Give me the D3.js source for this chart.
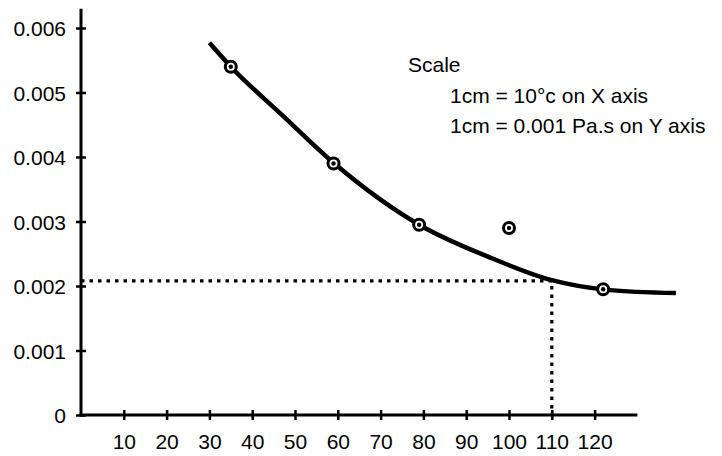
<!DOCTYPE html>
<html>
<head>
<meta charset="utf-8">
<script src="https://cdn.jsdelivr.net/npm/d3@7"></script>
<style>
  body { margin: 0; background: #fff; }
  text { font-family: "Liberation Sans", Arial, sans-serif; fill: #000; }
</style>
</head>
<body>
<script>
// temperature (deg C) of the measured points
var tempPoints = [35, 59, 79, 100, 122];
// viscosity (Pa.s) of the measured points
var viscPoints = [0.0054, 0.0039, 0.00295, 0.0029, 0.00195];

// smooth curve drawn through the points
var curveTemp = [30, 35, 47, 59, 79, 96, 110, 123, 139];
var curveVisc = [0.00577, 0.0054, 0.00465, 0.00391, 0.00295, 0.00243, 0.00209, 0.00194, 0.00189];

var xTicks = [10, 20, 30, 40, 50, 60, 70, 80, 90, 100, 110, 120];
var yTicks = [0, 0.001, 0.002, 0.003, 0.004, 0.005, 0.006];
var yTickLabels = ["0", "0.001", "0.002", "0.003", "0.004", "0.005", "0.006"];

// reading marked with dotted guide lines
var readTemp = 110, readVisc = 0.00208;

var w = 722, h = 456;

var svg = d3.select("body").append("svg")
	.attr("width", w)
	.attr("height", h);

var x = d3.scaleLinear()
	.domain([0, 120])
	.range([81, 594.6]);

var y = d3.scaleLinear()
	.domain([0, 0.006])
	.range([415, 28]);

// dotted guide lines
svg.append("path")
	.attr("d", "M" + x(0) + "," + y(readVisc) + "H" + x(readTemp) + "V" + y(0))
	.attr("fill", "none")
	.attr("stroke", "#000")
	.attr("stroke-width", 3.2)
	.attr("stroke-dasharray", "3.5,5");

// y axis
var yAxis = d3.axisLeft(y)
	.tickValues(yTicks)
	.tickFormat(function(d, i){ return yTickLabels[i]; })
	.tickSize(5)
	.tickPadding(10);

var gy = svg.append("g")
	.attr("transform", "translate(" + x(0) + ",0)")
	.call(yAxis);
gy.select(".domain").remove();
gy.selectAll(".tick line").attr("x1", 5).attr("stroke-width", 2.5);
gy.selectAll(".tick text")
	.style("font-family", "'Liberation Sans', Arial, sans-serif")
	.style("font-size", "21px")
	.attr("dy", "0.36em");

// x axis
var xAxis = d3.axisBottom(x)
	.tickValues(xTicks)
	.tickSize(5)
	.tickPadding(14);

var gx = svg.append("g")
	.attr("transform", "translate(0," + y(0) + ")")
	.call(xAxis);
gx.select(".domain").remove();
gx.selectAll(".tick line").attr("y1", -5).attr("stroke-width", 2.5);
gx.selectAll(".tick text")
	.style("font-family", "'Liberation Sans', Arial, sans-serif")
	.style("font-size", "21px");

// axis lines
svg.append("line")
	.attr("x1", x(0)).attr("x2", x(0))
	.attr("y1", y(0) + 1.5).attr("y2", y(0.0063))
	.attr("stroke", "#000").attr("stroke-width", 3);
svg.append("line")
	.attr("x1", x(0) - 1.5).attr("x2", x(130))
	.attr("y1", y(0)).attr("y2", y(0))
	.attr("stroke", "#000").attr("stroke-width", 3);

// fitted curve
var line = d3.line()
	.x(function(d){ return x(d[0]); })
	.y(function(d){ return y(d[1]); })
	.curve(d3.curveMonotoneX);

svg.append("path")
	.datum(d3.zip(curveTemp, curveVisc))
	.attr("d", line)
	.attr("fill", "none")
	.attr("stroke", "#000")
	.attr("stroke-width", 4.5);

// point markers: ringed dot
var pts = svg.selectAll(".pt")
	.data(d3.zip(tempPoints, viscPoints))
	.enter().append("g")
	.attr("class", "pt")
	.attr("transform", function(d){ return "translate(" + x(d[0]) + "," + y(d[1]) + ")"; });

pts.append("circle")
	.attr("r", 5.5)
	.attr("fill", "#fff")
	.attr("stroke", "#000")
	.attr("stroke-width", 3);
pts.append("circle")
	.attr("r", 2.2)
	.attr("fill", "#000");

// scale note
var note = svg.append("g").style("font-size", "21px");
note.append("text").attr("x", 408).attr("y", 72).text("Scale");
note.append("text").attr("x", 450).attr("y", 103).text("1cm = 10°c on X axis");
note.append("text").attr("x", 450).attr("y", 133).text("1cm = 0.001 Pa.s on Y axis");
</script>
</body>
</html>
